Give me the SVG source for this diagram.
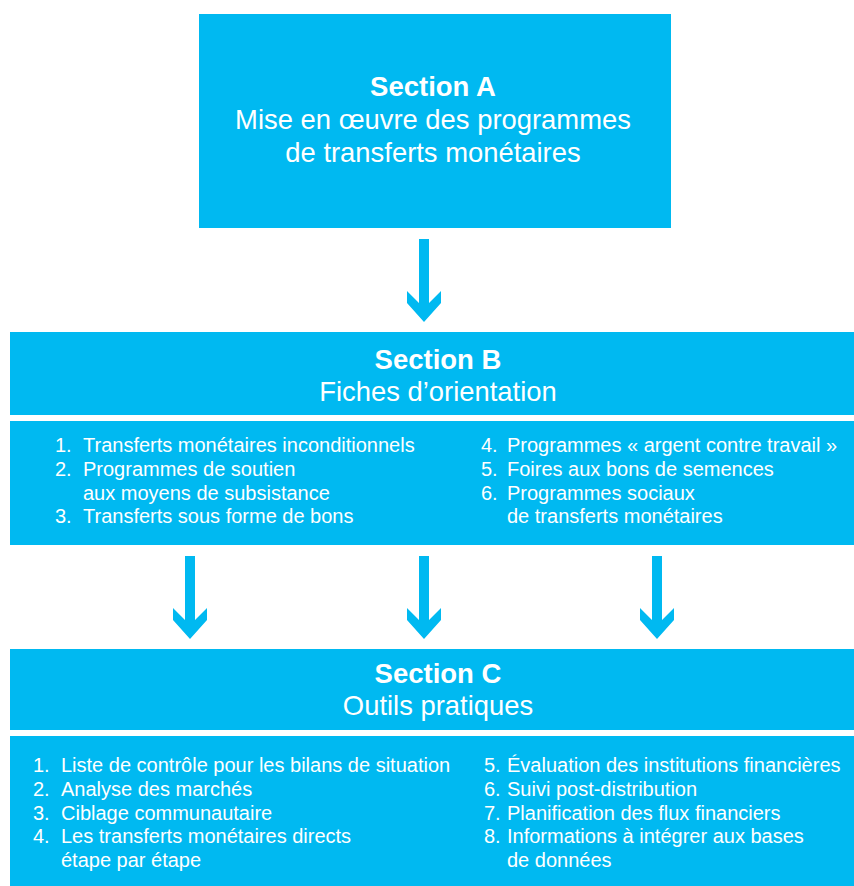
<svg xmlns="http://www.w3.org/2000/svg" width="854" height="886" viewBox="0 0 854 886">
<style>
.box{fill:#00B9F1}
.t{font-family:"Liberation Sans",Arial,sans-serif;fill:#fff}
.h{font-size:27.5px;font-weight:bold;text-anchor:middle}
.s{font-size:27.4px;text-anchor:middle}
.l{font-size:20px}
.arrow{fill:#00B9F1}
</style>
<defs>
<polygon id="arr" points="-5,0 5,0 5,64 17,52 17,64 0,83 -17,64 -17,52 -5,64"/>
</defs>
<rect width="854" height="886" fill="#fff"/>
<g id="sectionA">
<rect class="box" x="199" y="14" width="472" height="214"/>
<text class="t h" x="433" y="96">Section A</text>
<text class="t s" x="433" y="129">Mise en œuvre des programmes</text>
<text class="t s" x="433" y="162">de transferts monétaires</text>
</g>
<g id="sectionB">
<rect class="box" x="10" y="332" width="844" height="83"/>
<text class="t h" x="438" y="369">Section B</text>
<text class="t s" x="438" y="401">Fiches d’orientation</text>
</g>
<g id="listB">
<rect class="box" x="10" y="421" width="844" height="124"/>
<g class="t l">
<text x="55" y="452">1.</text><text x="83" y="452">Transferts monétaires inconditionnels</text>
<text x="55" y="476">2.</text><text x="83" y="476">Programmes de soutien</text>
<text x="83" y="500">aux moyens de subsistance</text>
<text x="55" y="523">3.</text><text x="83" y="523">Transferts sous forme de bons</text>
<text x="481" y="452">4.</text><text x="507" y="452">Programmes « argent contre travail »</text>
<text x="481" y="476">5.</text><text x="507" y="476">Foires aux bons de semences</text>
<text x="481" y="500">6.</text><text x="507" y="500">Programmes sociaux</text>
<text x="507" y="523">de transferts monétaires</text>
</g>
</g>
<g id="sectionC">
<rect class="box" x="10" y="649" width="844" height="81"/>
<text class="t h" x="438" y="683">Section C</text>
<text class="t s" x="438" y="715">Outils pratiques</text>
</g>
<g id="listC">
<rect class="box" x="10" y="736" width="844" height="150"/>
<g class="t l">
<text x="33" y="772">1.</text><text x="61" y="772">Liste de contrôle pour les bilans de situation</text>
<text x="33" y="796">2.</text><text x="61" y="796">Analyse des marchés</text>
<text x="33" y="820">3.</text><text x="61" y="820">Ciblage communautaire</text>
<text x="33" y="843">4.</text><text x="61" y="843">Les transferts monétaires directs</text>
<text x="61" y="867">étape par étape</text>
<text x="484" y="772">5.</text><text x="507" y="772">Évaluation des institutions financières</text>
<text x="484" y="796">6.</text><text x="507" y="796">Suivi post-distribution</text>
<text x="484" y="820">7.</text><text x="507" y="820">Planification des flux financiers</text>
<text x="484" y="843">8.</text><text x="507" y="843">Informations à intégrer aux bases</text>
<text x="507" y="867">de données</text>
</g>
</g>
<g id="connectors" class="arrow">
<use href="#arr" x="424" y="239"/>
<use href="#arr" x="190" y="556"/>
<use href="#arr" x="424" y="556"/>
<use href="#arr" x="657" y="556"/>
</g>
</svg>
